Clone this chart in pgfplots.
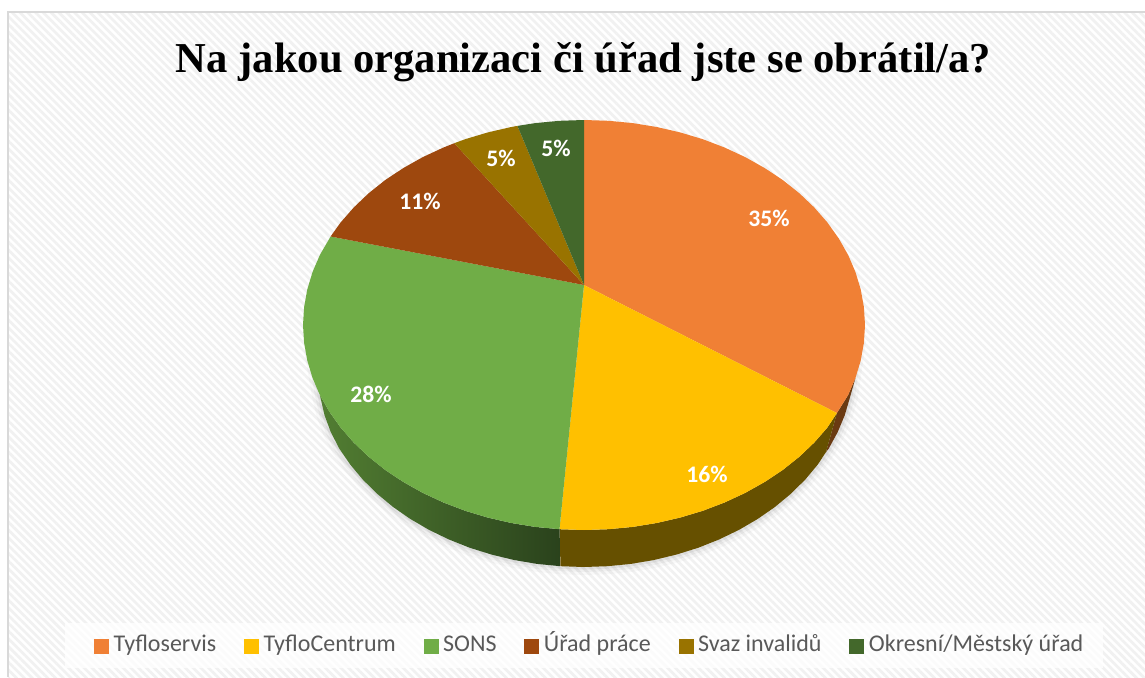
\documentclass[border=0pt]{standalone}
\usepackage{fontspec}
\usepackage{pgfplots}
\usepackage{pgfplotstable}
\pgfplotsset{compat=1.18}
\usetikzlibrary{patterns.meta}
\setmainfont{Carlito}
\newfontfamily\titlefont{Liberation Serif}

\definecolor{cOrange}{HTML}{F08035}
\definecolor{cYellow}{HTML}{FFC000}
\definecolor{cGreen}{HTML}{70AD47}
\definecolor{cBrown}{HTML}{9E480E}
\definecolor{cGold}{HTML}{997300}
\definecolor{cDark}{HTML}{43682B}
\definecolor{sideOrange}{HTML}{6A3A12}
\definecolor{sideYellow}{HTML}{665000}
\definecolor{sideGreenL}{HTML}{527E32}
\definecolor{sideGreenR}{HTML}{2A421C}
\definecolor{stripe}{HTML}{F1F1F1}
\definecolor{frame}{HTML}{D9D9D9}
\definecolor{legendtext}{HTML}{595959}

% coordinates in image pixels
\pgfplotstableread{
x y
584 285
584 120
608.5 120.8
632.8 123.1
656.7 127
680.1 132.4
702.8 139.2
724.5 147.5
745.2 157.1
764.6 168
782.7 180
799.3 193.2
814.2 207.4
827.4 222.5
838.7 238.4
848.1 254.9
855.4 271.9
860.7 289.4
863.9 307.1
865 325
863.9 342.9
860.7 360.6
855.4 378.1
848.1 395.1
836.9 413
}\wedgeOrange
\pgfplotstableread{
x y
584 285
836.9 413
827.4 427.5
814.2 442.6
799.3 456.8
782.7 470
764.6 482
745.2 492.9
724.5 502.5
702.8 510.8
680.1 517.6
656.7 523
632.8 526.9
608.5 529.2
584 530
559.5 529.2
}\wedgeYellow
\pgfplotstableread{
x y
584 285
559.5 529.2
535.2 526.9
511.3 523
487.9 517.6
465.2 510.8
443.5 502.5
422.8 492.9
403.4 482
385.3 470
368.7 456.8
353.8 442.6
340.6 427.5
329.3 411.6
319.9 395.1
312.6 378.1
307.3 360.6
304.1 342.9
303 325
304.1 307.1
307.3 289.4
312.6 271.9
319.9 254.9
330.6 236.5
}\wedgeGreen
\pgfplotstableread{
x y
584 285
330.6 236.5
340.6 222.5
353.8 207.4
368.7 193.2
385.3 180
403.4 168
422.8 157.1
443.5 147.5
454.3 143.2
}\wedgeBrown
\pgfplotstableread{
x y
584 285
454.3 143.2
465.2 139.2
487.9 132.4
511.3 127
517.4 125.9
}\wedgeGold
\pgfplotstableread{
x y
584 285
517.4 125.9
535.2 123.1
559.5 120.8
584 120
}\wedgeDark
% side walls
\pgfplotstableread{
x y
855.4 378.1
848.1 395.1
836.9 413
826 452
828.7 448.6
837.7 432.1
844.8 415.1
849.9 397.6
}\sideOrangeT
\pgfplotstableread{
x y
836.9 413
827.4 427.5
814.2 442.6
799.3 456.8
782.7 470
764.6 482
745.2 492.9
724.5 502.5
702.8 510.8
680.1 517.6
656.7 523
632.8 526.9
608.5 529.2
584 530
559.5 529.2
560.5 566.2
584 567
607.5 566.2
630.9 563.9
653.9 560
676.3 554.6
698.1 547.8
719 539.5
738.9 529.9
757.6 519
774.9 507
790.8 493.8
805.2 479.6
817.8 464.5
826 452
}\sideYellowT
\pgfplotstableread{
x y
559.5 529.2
535.2 526.9
511.3 523
487.9 517.6
465.2 510.8
443.5 502.5
422.8 492.9
403.4 482
385.3 470
368.7 456.8
353.8 442.6
340.6 427.5
329.3 411.6
319.9 395.1
324.5 415.1
330.8 432.1
339.3 448.6
350.2 464.5
362.8 479.6
377.2 493.8
393.1 507
410.4 519
429.1 529.9
449 539.5
469.9 547.8
491.7 554.6
514.1 560
537.1 563.9
560.5 566.2
}\sideGreenT
% outline of the lower rim, for the soft shadow
\pgfplotstableread{
x y
312 350
319.9 395.1
324.5 415.1
330.8 432.1
339.3 448.6
350.2 464.5
362.8 479.6
377.2 493.8
393.1 507
410.4 519
429.1 529.9
449 539.5
469.9 547.8
491.7 554.6
514.1 560
537.1 563.9
560.5 566.2
584 567
607.5 566.2
630.9 563.9
653.9 560
676.3 554.6
698.1 547.8
719 539.5
738.9 529.9
757.6 519
774.9 507
790.8 493.8
805.2 479.6
817.8 464.5
828.7 448.6
837.7 432.1
844.8 415.1
849.9 397.6
858 340
}\rimShadow
\pgfplotstableread{
x y v
769 218 35
707 474 16
371 394 28
420 201 11
501 158 5
556 148 5
}\pctLabels

\begin{document}
\begin{tikzpicture}
\begin{axis}[
    scale only axis,
    width=1145pt, height=677pt,
    xmin=0, xmax=1145, ymin=0, ymax=677,
    y dir=reverse,
    hide axis,
    title={\titlefont\bfseries\fontsize{42.6}{42.6}\selectfont Na jakou organizaci či úřad jste se obrátil/a?},
    title style={at={(axis description cs:0.5096,0.90)},anchor=center,inner sep=0pt},
    legend columns=6,
    legend cell align=left,
    legend image code/.code={\fill[#1] (0pt,-7.5pt) rectangle (15pt,7.5pt);},
    legend style={
        at={(axis cs:94,646)}, anchor=west,
        draw=none, fill=none, inner sep=0pt,
        font=\fontsize{24}{24}\selectfont,
        text=legendtext,
        nodes={inner sep=0pt, text height=15pt, text depth=5pt},
        /tikz/every odd column/.append style={column sep=4.5pt},
        /tikz/every even column/.append style={column sep=27.8pt},
    },
]
% page, hatching, frame
\addplot[fill=white, draw=none, forget plot] coordinates {(0,0) (1145,0) (1145,677) (0,677)};
\addplot[draw=none, forget plot, pattern={Lines[angle=-45,distance=5.5pt,line width=2.7pt]}, pattern color=stripe]
    coordinates {(8,12) (1145,12) (1145,677) (8,677)};
\addplot[draw=frame, line width=2pt, forget plot] coordinates {(8,677) (8,12) (1145,12)};
% legend panel
\addplot[fill=white, fill opacity=0.75, draw=none, forget plot]
    coordinates {(65,623) (1103,623) (1103,668) (65,668)};
% shadow
\addplot[draw=black, draw opacity=0.025, line width=16pt, line join=round, forget plot] table {\rimShadow};
\addplot[draw=black, draw opacity=0.035, line width=10pt, line join=round, forget plot] table {\rimShadow};
\addplot[draw=black, draw opacity=0.05, line width=5pt, line join=round, forget plot] table {\rimShadow};
% side walls
\addplot[fill=sideOrange, draw=none, forget plot] table {\sideOrangeT};
\addplot[fill=sideYellow, draw=none, forget plot] table {\sideYellowT};
\addplot[left color=sideGreenL, right color=sideGreenR, draw=none, forget plot] table {\sideGreenT};
% top face
\addplot[fill=cOrange, draw=none] table {\wedgeOrange};
\addlegendentry{Tyfloservis}
\addplot[fill=cYellow, draw=none] table {\wedgeYellow};
\addlegendentry{TyfloCentrum}
\addplot[fill=cGreen, draw=none] table {\wedgeGreen};
\addlegendentry{SONS}
\addplot[fill=cBrown, draw=none] table {\wedgeBrown};
\addlegendentry{Úřad práce}
\addplot[fill=cGold, draw=none] table {\wedgeGold};
\addlegendentry{Svaz invalidů}
\addplot[fill=cDark, draw=none] table {\wedgeDark};
\addlegendentry{Okresní/Městský úřad}
% percentages
\addplot[draw=none, mark=none, forget plot, point meta=explicit,
    nodes near coords={\pgfmathprintnumber[assume math mode=true]{\pgfplotspointmeta}\%},
    every node near coord/.append style={anchor=center, inner sep=0pt, text=white,
        font=\bfseries\fontsize{23.7}{23.7}\selectfont}]
    table[meta=v] {\pctLabels};
\end{axis}
\end{tikzpicture}
\end{document}
